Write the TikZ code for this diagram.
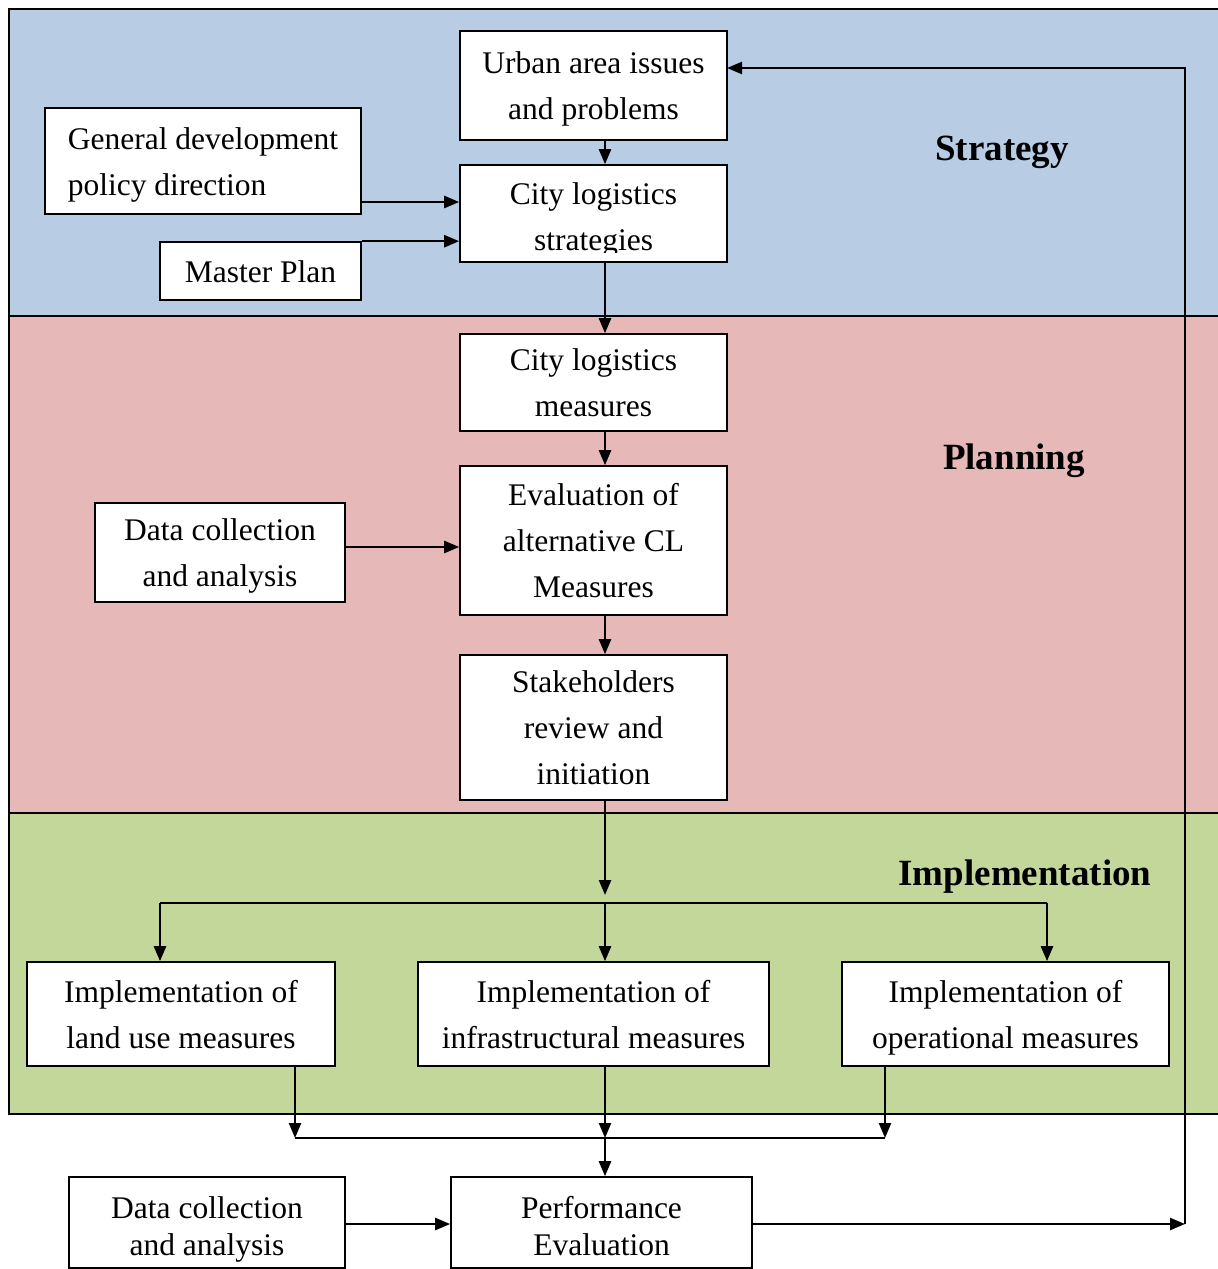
\documentclass[tikz,border=0pt]{standalone}
\usepackage{fontspec}
\setmainfont{Liberation Serif}
\usetikzlibrary{arrows.meta}

\definecolor{bandblue}{HTML}{B8CCE4}
\definecolor{bandred}{HTML}{E6B8B7}
\definecolor{bandgreen}{HTML}{C4D79B}

\newcommand\boxfont{\fontsize{31.5}{46}\selectfont}
\newcommand\tightfont{\fontsize{31.5}{37}\selectfont}
\newcommand\bandfont{\fontsize{37}{44}\selectfont\bfseries}
% line struts that keep the text block at the same height in every box
\newcommand\bs{\rule[-11pt]{0pt}{44pt}}
\newcommand\topstrut{\rule{0pt}{36pt}}
\newcommand\botstrut{\rule[-7pt]{0pt}{7pt}}

\tikzset{
  box/.style={draw, line width=1.6pt, fill=white, inner sep=0pt, align=center, font=\boxfont},
  bandline/.style={line width=2pt},
  arr/.style={line width=2.4pt, -{Triangle[length=15pt,width=12pt]}},
  wire/.style={line width=2.4pt},
  bandlabel/.style={font=\bandfont, inner sep=0pt}
}

\begin{document}
\begin{tikzpicture}[x=1pt, y=-1pt]
\useasboundingbox (0,0) rectangle (1218,1269);

% phase bands
\fill[bandblue]  (9,9)   rectangle (1218,316);
\fill[bandred]   (9,316) rectangle (1218,813);
\fill[bandgreen] (9,813) rectangle (1218,1114);
\draw[bandline] (1218,9) -- (9,9) -- (9,1114) -- (1218,1114);
\draw[bandline] (9,316) -- (1218,316);
\draw[bandline] (9,813) -- (1218,813);

% band titles
\node[bandlabel] (lblstrat) at (1002,152) {Strategy};
\node[bandlabel] (lblplan)  at (1014,461) {Planning};
\node[bandlabel] (lblimpl)  at (1025,877) {Implementation};

% strategy boxes
\node[box, minimum width=267, minimum height=109] (urban) at (593.5,85.5) {Urban area issues\bs\\and problems\bs};
\node[box, minimum width=316, minimum height=106, align=left] (gdp) at (203,161) {General development\bs\\policy direction\bs};
\node[box, minimum width=201, minimum height=58] (mp) at (260.5,271) {Master Plan\bs};
\node[box, minimum width=267, minimum height=97] (cls) at (593.5,213.5) {};
\begin{scope}
  \clip (460,165) rectangle (727,252);
  \node[font=\boxfont, align=center, inner sep=0pt] (clstext) at (593.5,216) {City logistics\bs\\strategies\bs};
\end{scope}

% planning boxes
\node[box, minimum width=267, minimum height=97]  (clm)   at (593.5,382.5) {City logistics\bs\\measures\bs};
\node[box, minimum width=267, minimum height=149] (eval)  at (593.5,540.5) {Evaluation of\bs\\alternative CL\bs\\Measures\bs};
\node[box, minimum width=250, minimum height=99]  (dca)   at (220,552.5) {Data collection\bs\\and analysis\bs};
\node[box, minimum width=267, minimum height=145] (stake) at (593.5,727.5) {Stakeholders\bs\\review and\bs\\initiation\bs};

% implementation boxes
\node[box, minimum width=308, minimum height=104] (imland)  at (181,1014)    {Implementation of\bs\\land use measures\bs};
\node[box, minimum width=351, minimum height=104] (iminfra) at (593.5,1014)  {Implementation of\bs\\infrastructural measures\bs};
\node[box, minimum width=327, minimum height=104] (imop)    at (1005.5,1014) {Implementation of\bs\\operational measures\bs};

% evaluation boxes
\node[box, font=\tightfont, minimum width=276, minimum height=91] (dcb)  at (207,1222.5)   {Data collection\topstrut\\and analysis\botstrut};
\node[box, font=\tightfont, minimum width=301, minimum height=91] (perf) at (601.5,1222.5) {Performance\topstrut\\Evaluation\botstrut};

% routing points
\coordinate (spine) at (605,0);
\coordinate (gdpout) at (361,202);
\coordinate (dcaout) at (345,547);
\coordinate (bus)  at (605,903);
\coordinate (busL) at (160,903);
\coordinate (busR) at (1047,903);
\coordinate (jL) at (295,1138);
\coordinate (jM) at (605,1138);
\coordinate (jR) at (885,1138);
\coordinate (fb) at (1185,1224);
\coordinate (urbin) at (727,68);

% strategy connectors
\draw[arr] (urban.south -| spine) -- (cls.north -| spine);
\draw[arr] (gdpout) -- (gdpout -| cls.west);
\draw[arr] (mp.north east) -- (mp.north east -| cls.west);
\draw[arr] (cls.south -| spine) -- (clm.north -| spine);

% planning connectors
\draw[arr] (clm.south -| spine) -- (eval.north -| spine);
\draw[arr] (dcaout) -- (dcaout -| eval.west);
\draw[arr] (eval.south -| spine) -- (stake.north -| spine);
\draw[arr] (stake.south -| spine) -- ([yshift=8pt]bus);

% distribution to the implementation boxes
\draw[wire] (busL) -- (busR);
\draw[arr] (busL) -- (busL |- imland.north);
\draw[arr] (bus) -- (bus |- iminfra.north);
\draw[arr] (busR) -- (busR |- imop.north);

% merge into performance evaluation
\draw[wire] (jL) -- (jR);
\draw[arr] (jL |- imland.south) -- (jL);
\draw[arr] (jM |- iminfra.south) -- (jM);
\draw[arr] (jR |- imop.south) -- (jR);
\draw[arr] (jM) -- (jM |- perf.north);
\draw[arr] (dcb.east |- fb) -- (perf.west |- fb);

% feedback loop
\draw[arr] (perf.east |- fb) -- (fb);
\draw[arr] (fb) -- (fb |- urbin) -- (urbin);
\end{tikzpicture}
\end{document}
